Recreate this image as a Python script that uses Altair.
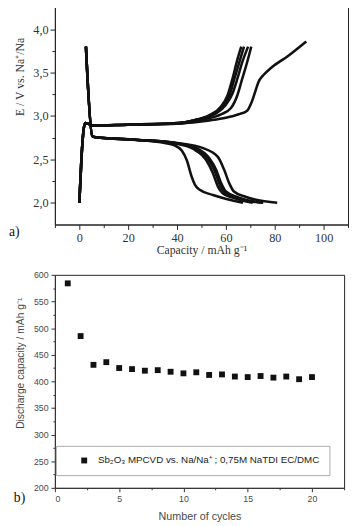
import altair as alt
import pandas as pd

# ---------------- Panel a) : charge / discharge curves ----------------
# common start of charge curves
start_x = [0, 0.9, 1.7, 2.4, 3.7, 5.5]
start_y = [2.0, 2.53, 2.83, 2.92, 2.91, 2.89]

c1_x = [18.7, 40, 53.3, 60, 65.3, 68.7, 70.4, 72, 73.3, 75.3, 78.7, 85.3, 92.9]
c1_y = [2.90, 2.915, 2.95, 2.98, 3.02, 3.06, 3.15, 3.28, 3.39, 3.47, 3.56, 3.69, 3.86]
c2_x = [20, 40, 46.7, 53.3, 58, 60.7, 62.7, 64.7, 66.3]
c2_y = [2.90, 2.92, 2.95, 3.01, 3.11, 3.24, 3.43, 3.65, 3.80]
c3_x = [20, 40, 47, 54, 58.8, 61.5, 63.5, 65.6, 67.4]
c3_y = [2.90, 2.92, 2.95, 3.01, 3.11, 3.24, 3.43, 3.63, 3.80]
c4_x = [20, 40, 48, 56, 60, 62.7, 64.7, 66.7, 69.1]
c4_y = [2.90, 2.915, 2.96, 3.03, 3.13, 3.26, 3.43, 3.62, 3.80]
c5_x = [20, 40, 50.7, 58, 62, 64.7, 66.7, 68.7, 70.4]
c5_y = [2.90, 2.91, 2.96, 3.02, 3.09, 3.24, 3.43, 3.62, 3.80]

# common start of discharge curves
dstart_x = [2.7, 5.3, 6.7, 24]
dstart_y = [3.80, 2.77, 2.755, 2.725]

d1_x = [35, 38.7, 42, 44, 46, 47.3, 49.3, 54.7, 67]
d1_y = [2.69, 2.665, 2.60, 2.49, 2.30, 2.21, 2.15, 2.09, 2.0]
d2_x = [40, 46.7, 52, 54.7, 56.7, 58.7, 62.7, 71]
d2_y = [2.68, 2.62, 2.49, 2.34, 2.19, 2.11, 2.06, 2.0]
d3_x = [40, 48, 53.3, 56, 58, 60, 65.3, 75.3]
d3_y = [2.685, 2.63, 2.51, 2.38, 2.23, 2.13, 2.06, 2.0]
d4_x = [40, 50.7, 56.7, 59.3, 61.3, 63.3, 68, 81]
d4_y = [2.69, 2.63, 2.53, 2.38, 2.23, 2.13, 2.07, 2.0]
d5_x = [40, 47.5, 52.8, 55.5, 57.5, 59.5, 64, 75]
d5_y = [2.685, 2.625, 2.50, 2.36, 2.21, 2.12, 2.06, 2.0]

rows = []
for name, xs, ys in [("c1", c1_x, c1_y), ("c2", c2_x, c2_y), ("c3", c3_x, c3_y),
                     ("c4", c4_x, c4_y), ("c5", c5_x, c5_y)]:
    for i, (x, y) in enumerate(zip(start_x + xs, start_y + ys)):
        rows.append({"curve": name, "i": i, "x": x, "y": y})
for name, xs, ys in [("d1", d1_x, d1_y), ("d2", d2_x, d2_y), ("d3", d3_x, d3_y),
                     ("d4", d4_x, d4_y), ("d5", d5_x, d5_y)]:
    for i, (x, y) in enumerate(zip(dstart_x + xs, dstart_y + ys)):
        rows.append({"curve": name, "i": i, "x": x, "y": y})
curves = pd.DataFrame(rows)

# ---------------- Panel b) : discharge capacity vs cycles ----------------
cycles = list(range(1, 21))
capacity = [584, 485, 431, 436, 425, 423, 420, 421, 418, 415,
            417, 412, 413, 409, 408, 410, 407, 409, 404, 408]
series_label = "Sb₂O₃ MPCVD vs. Na/Na⁺ ; 0,75M NaTDI EC/DMC"
cap_df = pd.DataFrame({"cycle": cycles, "cap": capacity, "series": series_label})

SERIF = "Liberation Serif"
SANS = "Liberation Sans"
TXT_A = "#333333"
TXT_B = "#4a4a4a"

x_a = alt.X("x:Q", scale=alt.Scale(domain=[-10, 110], nice=False, zero=False),
            axis=alt.Axis(values=list(range(-10, 111, 10)),
                          labelExpr="datum.value % 20 === 0 ? datum.label : ''",
                          tickSize={"condition": {"test": "datum.value % 20 === 0", "value": 5}, "value": 3},
                          title="Capacity / mAh g⁻¹", labelFont=SERIF, titleFont=SERIF,
                          labelFontSize=12.5, titleFontSize=12, titleFontWeight="normal",
                          labelColor=TXT_A, titleColor=TXT_A, labelPadding=2, titlePadding=1,
                          domainColor="#222", tickColor="#222", grid=False))
y_vals_a = [2.0 + 0.25 * k for k in range(9)]
y_a = alt.Y("y:Q", scale=alt.Scale(domain=[1.75, 4.3], nice=False, zero=False),
            axis=alt.Axis(values=y_vals_a,
                          labelExpr="abs(datum.value*2 - round(datum.value*2)) < 0.01 ? replace(format(datum.value, '.1f'), '.', ',') : ''",
                          tickSize={"condition": {"test": "abs(datum.value*2 - round(datum.value*2)) < 0.01", "value": 5}, "value": 3},
                          title="E / V vs. Na⁺/Na", labelFont=SERIF, titleFont=SERIF,
                          labelFontSize=12.5, titleFontSize=12, titleFontWeight="normal",
                          labelColor=TXT_A, titleColor=TXT_A, labelPadding=2, titlePadding=6,
                          titleY=75, domainColor="#222", tickColor="#222", grid=False))

lines = alt.Chart(curves).mark_line(color="#111111", strokeWidth=2.6, interpolate="monotone").encode(
    x=x_a, y=y_a, detail="curve:N", order="i:Q")
lab_a = alt.Chart(pd.DataFrame({"t": ["a)"]})).mark_text(
    font=SERIF, fontSize=14, align="left", baseline="middle", color="#111").encode(
    x=alt.value(-47), y=alt.value(234), text="t:N")
top = alt.layer(lines, lab_a).properties(width=300, height=226.5)

x_b = alt.X("cycle:Q", scale=alt.Scale(domain=[0, 22.5], nice=False, zero=False),
            axis=alt.Axis(values=[2.5 * k for k in range(10)],
                          labelExpr="datum.value % 5 === 0 ? datum.label : ''",
                          tickSize={"condition": {"test": "datum.value % 5 === 0", "value": 4}, "value": 2},
                          title="Number of cycles", labelFont=SANS, titleFont=SANS,
                          labelFontSize=9, titleFontSize=11, titleFontWeight="normal",
                          labelColor=TXT_B, titleColor=TXT_B, labelPadding=3, titlePadding=7,
                          domainColor="#333", tickColor="#333", grid=False))
y_b = alt.Y("cap:Q", scale=alt.Scale(domain=[200, 600], nice=False, zero=False),
            axis=alt.Axis(values=list(range(200, 601, 25)),
                          labelExpr="datum.value % 50 === 0 ? datum.label : ''",
                          tickSize={"condition": {"test": "datum.value % 50 === 0", "value": 4}, "value": 2},
                          title="Discharge capacity / mAh g⁻¹", labelFont=SANS, titleFont=SANS,
                          labelFontSize=9, titleFontSize=10.5, titleFontWeight="normal",
                          labelColor=TXT_B, titleColor=TXT_B, labelPadding=3, titlePadding=8,
                          titleY=90, domainColor="#333", tickColor="#333", grid=False))
pts = alt.Chart(cap_df).mark_square(size=36, opacity=1).encode(
    x=x_b, y=y_b,
    color=alt.Color("series:N", scale=alt.Scale(range=["#111111"]),
                    legend=alt.Legend(title=None, orient="none", legendX=1, legendY=453,
                                      strokeColor="#aaaaaa", fillColor="white", padding=10,
                                      symbolType="square", symbolSize=36, symbolOffset=14,
                                      labelFont=SANS, labelFontSize=10, labelColor="#222",
                                      labelLimit=0, labelOffset=9)))
lab_b = alt.Chart(pd.DataFrame({"t": ["b)"]})).mark_text(
    font=SERIF, fontSize=14, align="left", baseline="middle", color="#111").encode(
    x=alt.value(-42), y=alt.value(228), text="t:N")
bottom = alt.layer(pts, lab_b).properties(width=296, height=218)

chart = alt.vconcat(top, bottom, spacing=14).properties(
    padding={"left": 0, "top": -12, "right": 0, "bottom": 0}
).configure_view(stroke="#222")

chart.save("out.html", embed_options={"renderer": "svg", "actions": False})
